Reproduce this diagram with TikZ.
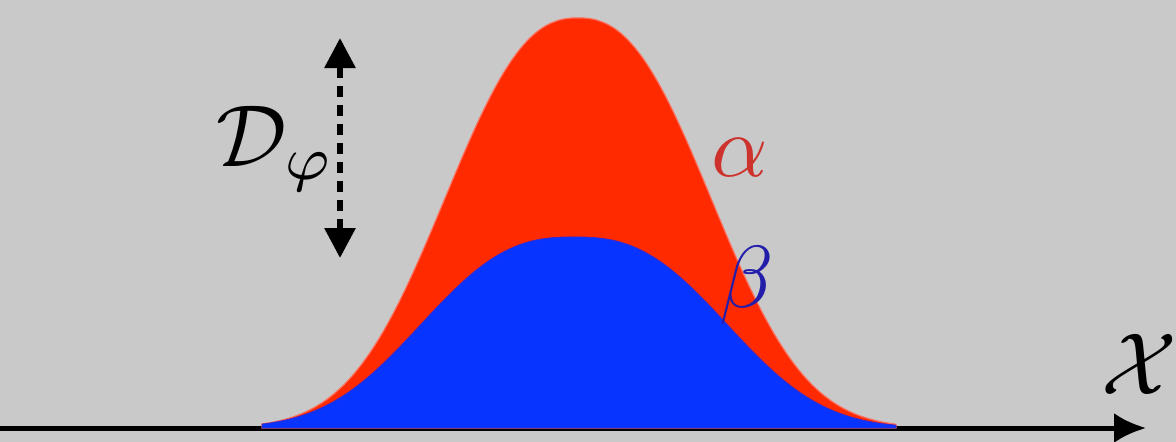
\documentclass[tikz,border=0pt]{standalone}
\usepackage{graphicx}
\usetikzlibrary{arrows.meta}
\definecolor{bgc}{RGB}{201,201,201}
\definecolor{redc}{RGB}{255,42,0}
\definecolor{rededge}{RGB}{255,110,90}
\definecolor{bluec}{RGB}{8,52,255}
\definecolor{alphac}{RGB}{205,50,45}
\definecolor{betac}{RGB}{35,30,170}
\tikzset{
  axisline/.style={line width=5pt,-{Latex[length=32pt,width=30pt]}},
  gapline/.style={line width=6pt,dash pattern=on 11pt off 8pt,{Triangle[length=30pt,width=30pt]}-{Triangle[length=30pt,width=30pt]}},
  bigmath/.style={inner sep=0pt},
}
\newcommand{\hugemath}[1]{\scalebox{8.8}{$#1$}}
\begin{document}
\begin{tikzpicture}[x=1pt,y=-1pt]
\fill[bgc] (0,0) rectangle (1176,442);
\useasboundingbox (0,0) rectangle (1176,442);
% axis
\coordinate (ax0) at (0,428);
\coordinate (ax1) at (1146,428);
\draw[axisline] (ax0) -- (ax1);
% red curve (alpha)
\fill[redc,draw=rededge,line width=1.2pt]
  (262,428) -- plot[domain=262:896,samples=200,smooth]
  (\x,{428-410*exp(-pow(abs(\x-578)/167+0.0001,2.4))}) -- (896,428) -- cycle;
% blue curve (beta)
\fill[bluec,draw=bluec!80!red,line width=0.8pt]
  (262,428) -- plot[domain=262:896,samples=200,smooth]
  (\x,{428-min(191*exp(-pow(abs(\x-574)/185+0.0001,2.6)),0.95*410*exp(-pow(abs(\x-578)/167+0.0001,2.4)))}) -- (896,428) -- cycle;
% dashed double arrow
\coordinate (dtop) at (340,38);
\coordinate (dbot) at (340,258);
\draw[gapline] (dtop) -- (dbot);
% labels
\node[bigmath,anchor=base west] (dphi) at (216,166) {\hugemath{\mathcal{D}_{\varphi}}};
\node[bigmath,text=alphac] (alpha) at (740,158) {\hugemath{\alpha}};
\node[bigmath,text=betac] (beta) at (747,285) {\hugemath{\beta}};
\node[bigmath,anchor=base] (xlab) at (1139,394) {\hugemath{\mathcal{X}}};
\end{tikzpicture}
\end{document}
